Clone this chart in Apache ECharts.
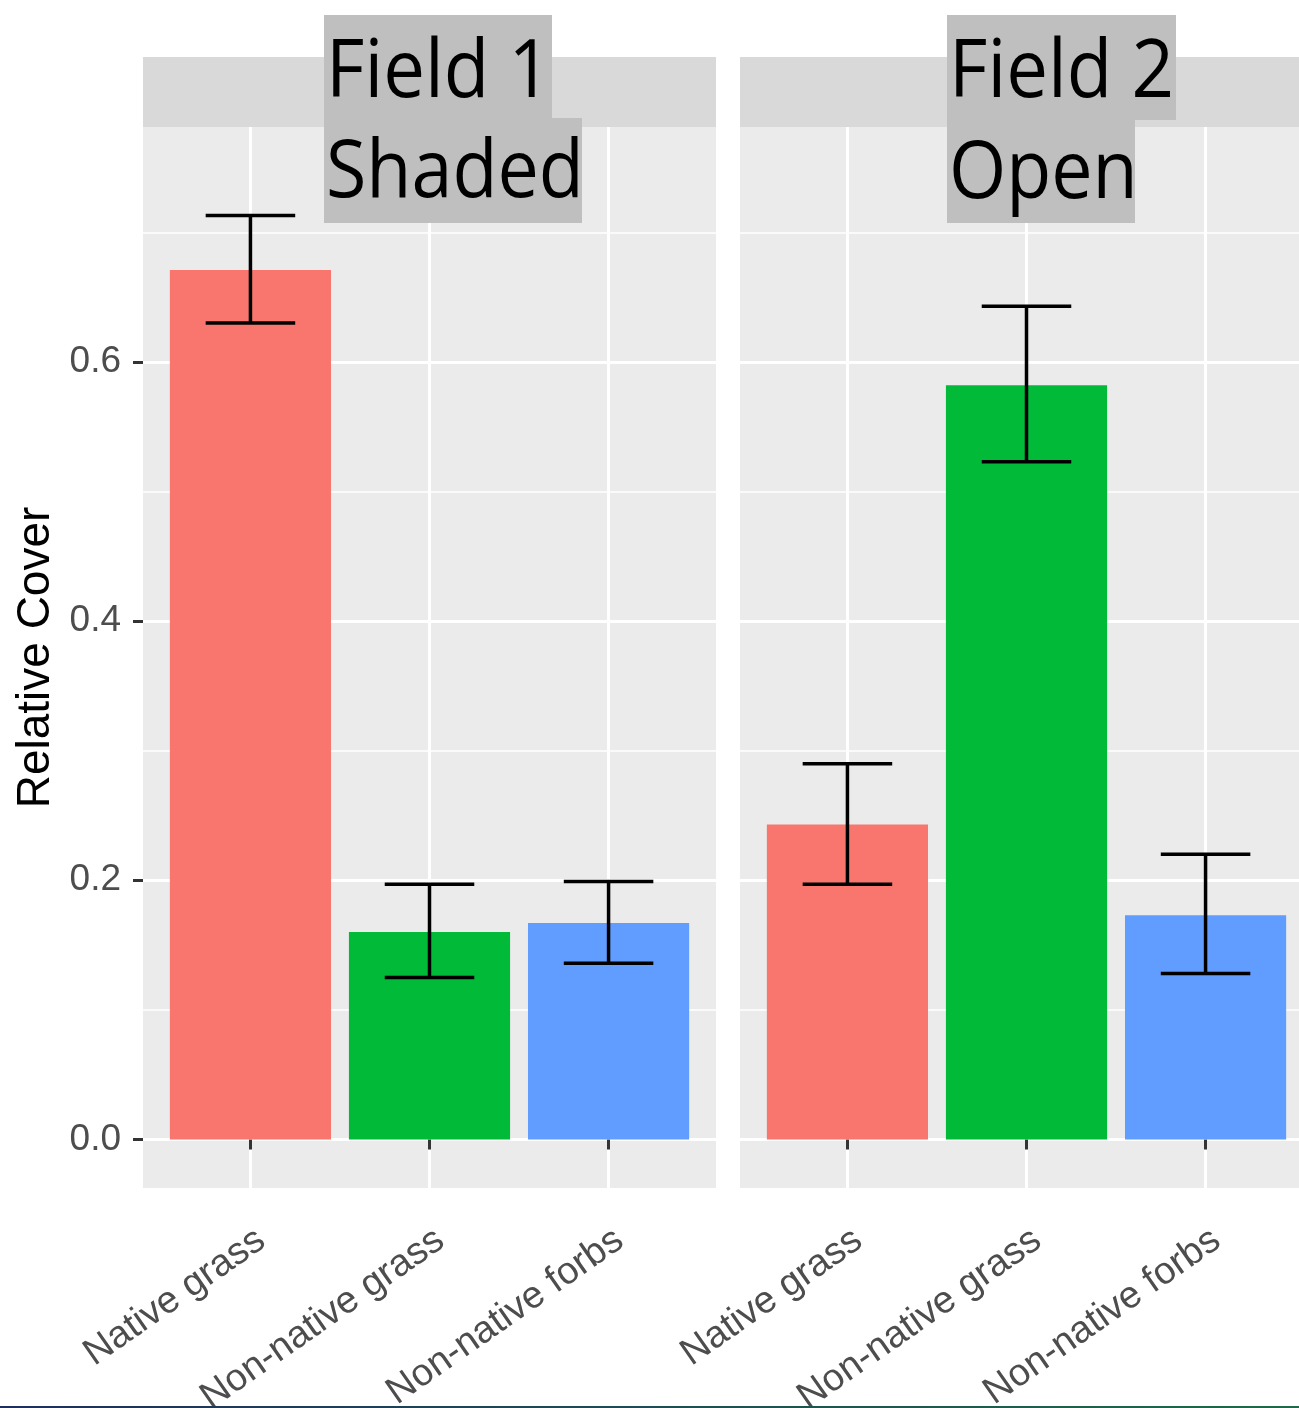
<!DOCTYPE html>
<html>
<head>
<meta charset="utf-8">
<script src="https://cdn.jsdelivr.net/npm/echarts@6/dist/echarts.min.js"></script>
<style>
html,body{margin:0;padding:0;background:#fff;}
#chart{width:1299px;height:1408px;}
</style>
</head>
<body>
<div id="chart"></div>
<script>
// ---- data ----
const categories = ['Native grass', 'Non-native grass', 'Non-native forbs'];
const categoryPositions = [1, 2, 3];
const field1Title = ['Field 1', 'Shaded'];
const field2Title = ['Field 2', 'Open'];
const field1Cover = [0.671, 0.160, 0.167];
const field1Lower = [0.630, 0.125, 0.136];
const field1Upper = [0.713, 0.197, 0.199];
const field2Cover = [0.243, 0.582, 0.173];
const field2Lower = [0.197, 0.523, 0.128];
const field2Upper = [0.290, 0.643, 0.220];
const yTicks = [0, 0.2, 0.4, 0.6];
const yMinorTicks = [0.1, 0.3, 0.5, 0.7];
const yMin = -0.0375, yMax = 0.7813;
const barColors = ['#F8766D', '#00BA38', '#619CFF'];

const chart = echarts.init(document.getElementById('chart'), null, {renderer: 'canvas'});

const FONT = '"Liberation Sans", Arial, sans-serif';
// right panel is cropped by the picture edge: its x range is cut accordingly
const gridDefs = [{left: 143, top: 127, width: 573, height: 1061}, {left: 740, top: 127, width: 559, height: 1061}];
const xMaxes = [3.6, 0.4 + 559 / (573 / 3.2)];

function xAxisFor(i) {
  return {
    type: 'value', gridIndex: i, min: 0.4, max: xMaxes[i],
    axisLine: {show: false},
    axisTick: {show: true, customValues: categoryPositions, length: 10, lineStyle: {color: '#333333', width: 3}},
    axisLabel: {
      show: true, customValues: categoryPositions, rotate: 35, margin: 33,
      align: 'right', verticalAlign: 'top',
      formatter: v => categories[Math.round(v) - 1],
      color: '#4D4D4D', fontSize: 38, fontFamily: FONT
    },
    splitLine: {show: true, lineStyle: {color: '#FFFFFF', width: 3}},
    minorSplitLine: {show: false}
  };
}
function yAxisMajor(i, showLabels) {
  return {
    type: 'value', gridIndex: i, min: yMin, max: yMax, position: 'left',
    name: showLabels ? 'Relative Cover' : '',
    nameLocation: 'middle', nameGap: 84, nameRotate: 90,
    nameTextStyle: {color: '#000000', fontSize: 46, fontFamily: FONT},
    axisLine: {show: false},
    axisTick: {show: showLabels, customValues: yTicks, length: 10, lineStyle: {color: '#333333', width: 3}},
    axisLabel: {show: showLabels, customValues: yTicks, margin: 22,
      formatter: v => v.toFixed(1), color: '#4D4D4D', fontSize: 37, fontFamily: FONT},
    splitLine: {show: true, lineStyle: {color: '#FFFFFF', width: 3}}
  };
}
function yAxisMinor(i) {
  return {
    type: 'value', gridIndex: i, min: yMin, max: yMax, position: 'left',
    axisLine: {show: false},
    axisTick: {show: false, customValues: yMinorTicks},
    axisLabel: {show: false, customValues: yMinorTicks},
    splitLine: {show: true, lineStyle: {color: '#FFFFFF', width: 1.6}}
  };
}

function barSeries(i, cover, yIdx) {
  return {
    type: 'custom', xAxisIndex: i, yAxisIndex: yIdx, z: 3,
    data: categoryPositions.map((x, k) => [x, cover[k]]),
    renderItem(params, api) {
      const x = api.value(0), v = api.value(1);
      const p0 = api.coord([x - 0.45, v]);
      const p1 = api.coord([x + 0.45, 0]);
      return {type: 'rect', shape: {x: p0[0], y: p0[1], width: p1[0] - p0[0], height: p1[1] - p0[1]},
        style: {fill: barColors[params.dataIndex]}};
    }
  };
}
function errSeries(i, lower, upper, yIdx) {
  return {
    type: 'custom', xAxisIndex: i, yAxisIndex: yIdx, z: 4,
    data: categoryPositions.map((x, k) => [x, lower[k], upper[k]]),
    renderItem(params, api) {
      const x = api.value(0), lo = api.value(1), hi = api.value(2);
      const a = api.coord([x, lo]), b = api.coord([x, hi]);
      const l1 = api.coord([x - 0.25, lo]), r1 = api.coord([x + 0.25, lo]);
      const l2 = api.coord([x - 0.25, hi]), r2 = api.coord([x + 0.25, hi]);
      const st = {stroke: '#000000', lineWidth: 3.5};
      return {type: 'group', children: [
        {type: 'line', shape: {x1: a[0], y1: a[1], x2: b[0], y2: b[1]}, style: st},
        {type: 'line', shape: {x1: l1[0], y1: l1[1], x2: r1[0], y2: r1[1]}, style: st},
        {type: 'line', shape: {x1: l2[0], y1: l2[1], x2: r2[0], y2: r2[1]}, style: st}
      ]};
    }
  };
}

const TITLE_FONT = '"Open Sans", "Noto Sans", sans-serif';
function titleBox(x, y, w, h, text, sx, dy) {
  return [
    {type: 'rect', left: x, top: y, shape: {width: w, height: h}, style: {fill: '#BFBFBF'}, z: 100},
    {type: 'text', x: x + 2, y: y + h / 2 + dy, z: 101, scaleX: sx,
      style: {text: text, fill: '#000000', font: '80px ' + TITLE_FONT, textVerticalAlign: 'middle', textAlign: 'left'}}
  ];
}

const option = {
  backgroundColor: '#FFFFFF',
  animation: false,
  grid: gridDefs.map(g => Object.assign({backgroundColor: '#EBEBEB', show: true, borderWidth: 0, outerBoundsMode: 'none', containLabel: false}, g)),
  xAxis: [xAxisFor(0), xAxisFor(1)],
  yAxis: [yAxisMinor(0), yAxisMajor(0, true), yAxisMinor(1), yAxisMajor(1, false)],
  series: [
    barSeries(0, field1Cover, 1), errSeries(0, field1Lower, field1Upper, 1),
    barSeries(1, field2Cover, 3), errSeries(1, field2Lower, field2Upper, 3)
  ],
  graphic: [
    {type: 'rect', left: 143, top: 57, shape: {width: 573, height: 70}, style: {fill: '#D9D9D9'}, z: 50},
    {type: 'rect', left: 740, top: 57, shape: {width: 559, height: 70}, style: {fill: '#D9D9D9'}, z: 50},
    ...titleBox(324, 15, 228, 104, field1Title[0], 0.93, 7),
    ...titleBox(324, 118, 258, 105, field1Title[1], 0.92, 4),
    ...titleBox(947, 15, 229, 105, field2Title[0], 0.93, 7),
    ...titleBox(947, 119, 188, 104, field2Title[1], 0.92, 4),
    {type: 'rect', left: 0, top: 1406, shape: {width: 1299, height: 2}, z: 100,
      style: {fill: new echarts.graphic.LinearGradient(0, 0, 1, 0, [{offset: 0, color: '#1E2F5C'}, {offset: 1, color: '#1F6A48'}])}}
  ]
};
chart.setOption(option);
</script>
</body>
</html>
